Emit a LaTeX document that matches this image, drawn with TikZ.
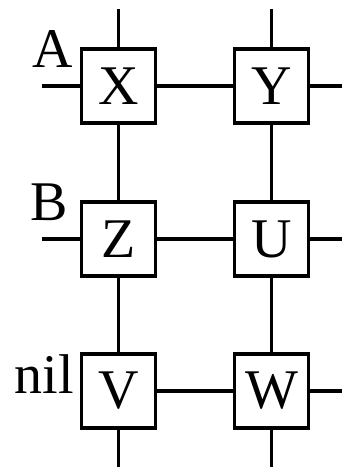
\documentclass[tikz,border=0pt]{standalone}
\usepackage{fontspec}
\setmainfont{Liberation Serif}
\begin{document}
\begin{tikzpicture}[x=1pt,y=-1pt,
  cell/.style={draw,line width=3.4pt,fill=white,minimum size=74pt,inner sep=0pt,
    font=\fontsize{56}{60}\selectfont},
  lbl/.style={anchor=base east,inner sep=0pt,font=\fontsize{56}{60}\selectfont},
  wire/.style={line width=3.4pt}]
\useasboundingbox (0,0) rectangle (342,469);
% column ends
\coordinate (t1) at (118.5,9);
\coordinate (b1) at (118.5,467);
\coordinate (t2) at (271.5,9);
\coordinate (b2) at (271.5,467);
% row ends
\coordinate (l1) at (42,86);
\coordinate (r1) at (342,86);
\coordinate (l2) at (42,239);
\coordinate (r2) at (342,239);
\coordinate (r3) at (342,391);
% grid wires
\draw[wire] (t1) -- (b1);
\draw[wire] (t2) -- (b2);
\draw[wire] (l1) -- (r1);
\draw[wire] (l2) -- (r2);
% cells
\node[cell] (X) at (118.5,86) {X};
\node[cell] (Y) at (271.5,86) {Y};
\node[cell] (Z) at (118.5,239) {Z};
\node[cell] (U) at (271.5,239) {U};
\node[cell] (V) at (118.5,391) {V};
\node[cell] (W) at (271.5,391) {W};
% bottom row has no left lead
\draw[wire] (V.east) -- (W.west);
\draw[wire] (W.east) -- (r3);
% row labels
\node[lbl] (A) at (73,67) {A};
\node[lbl] (B) at (68,220) {B};
\node[lbl] (nil) at (74,393) {nil};
\end{tikzpicture}
\end{document}
